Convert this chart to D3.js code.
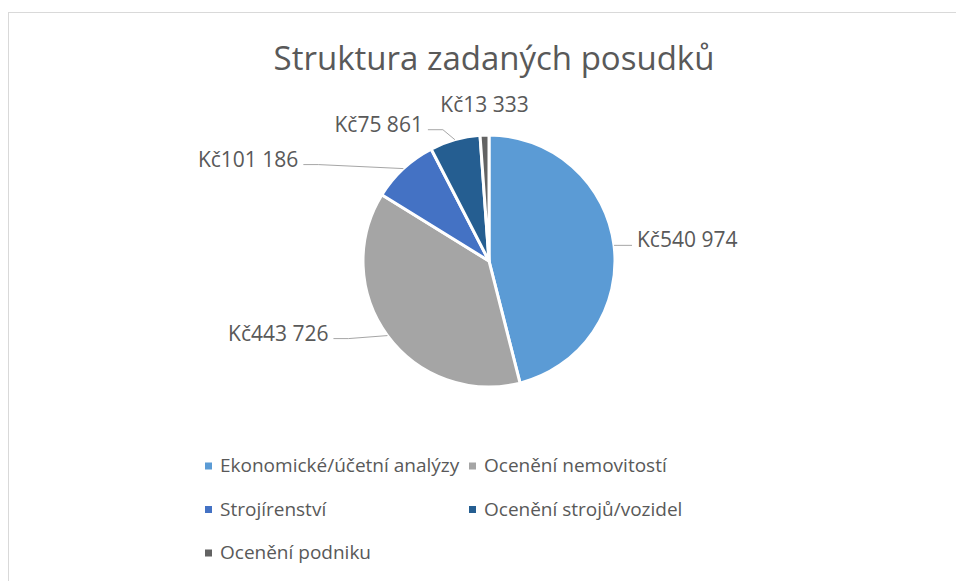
<!DOCTYPE html>
<html lang="cs">
<head>
<meta charset="utf-8">
<title>Struktura zadaných posudků</title>
<script src="https://d3js.org/d3.v7.min.js"></script>
<style>
  body { margin: 0; background: #fff; }
  text { font-family: "Open Sans", "Noto Sans", sans-serif; fill: #595959; }
</style>
</head>
<body>
<script>
// data
var categories = ["Ekonomické/účetní analýzy", "Ocenění nemovitostí", "Strojírenství", "Ocenění strojů/vozidel", "Ocenění podniku"];
var values = [540974, 443726, 101186, 75861, 13333];
var colors = ["#5b9bd5", "#a5a5a5", "#4472c4", "#255e91", "#636363"];

// label nudges from the slice edge (dx, dy) and which side the text sits on
var labelNudge = [[23, -6, "start"], [-59, -3, "end"], [-105, -10, "end"], [-32, -16, "end"], [0, -31, "middle"]];

var w = 956, h = 581,
    cx = 489, cy = 261,
    radius = 126;

var svg = d3.select("body").append("svg")
    .attr("width", w)
    .attr("height", h);

// chart frame
svg.append("rect")
    .attr("x", 8.5).attr("y", 12.5)
    .attr("width", w).attr("height", h)
    .attr("fill", "none")
    .attr("stroke", "#d9d9d9")
    .attr("stroke-width", 1);

svg.append("text")
    .attr("x", 494).attr("y", 70)
    .attr("text-anchor", "middle")
    .style("font-size", "33px")
    .text("Struktura zadaných posudků");

var pie = d3.pie().sort(null).value(function(d) { return d; });
var arcs = pie(values);

var arc = d3.arc().innerRadius(0).outerRadius(radius);

var g = svg.append("g").attr("transform", "translate(" + cx + "," + cy + ")");

g.selectAll("path.slice")
    .data(arcs)
    .enter().append("path")
    .attr("class", "slice")
    .attr("d", arc)
    .attr("fill", function(d, i) { return colors[i]; })
    .attr("stroke", "#fff")
    .attr("stroke-width", 3)
    .attr("stroke-linejoin", "round");

var fmt = function(v) { return "Kč" + d3.format(",")(v).replace(/,/g, " "); };

arcs.forEach(function(d, i) {
    var mid = (d.startAngle + d.endAngle) / 2;
    var ex = Math.sin(mid) * radius, ey = -Math.cos(mid) * radius;
    var n = labelNudge[i];
    var tx = ex + n[0], ty = ey + n[1];

    if (n[2] !== "middle") {
        var side = n[2] === "start" ? -1 : 1;
        var ax = tx + side * 5, ay = ty + 6;
        g.append("polyline")
            .attr("points", [[ex, ey], [ax + side * 15, ay], [ax, ay]].map(function(p) { return p.join(","); }).join(" "))
            .attr("fill", "none")
            .attr("stroke", "#a6a6a6")
            .attr("stroke-width", 1);
    }

    g.append("text")
        .attr("x", tx).attr("y", ty)
        .attr("text-anchor", n[2])
        .attr("dominant-baseline", "central")
        .style("font-size", "21px")
        .text(fmt(values[i]));
});

// legend
var legendCols = [205, 469], legendRows = [465, 508.5, 552];
var leg = svg.selectAll("g.legend")
    .data(categories)
    .enter().append("g")
    .attr("class", "legend")
    .attr("transform", function(d, i) {
        return "translate(" + legendCols[i % 2] + "," + legendRows[Math.floor(i / 2)] + ")";
    });

leg.append("rect")
    .attr("x", 0).attr("y", -2.5)
    .attr("width", 7).attr("height", 7)
    .attr("fill", function(d, i) { return colors[i]; });

leg.append("text")
    .attr("x", 15).attr("y", 0)
    .attr("dominant-baseline", "central")
    .style("font-size", "19px")
    .text(function(d) { return d; });
</script>
</body>
</html>
